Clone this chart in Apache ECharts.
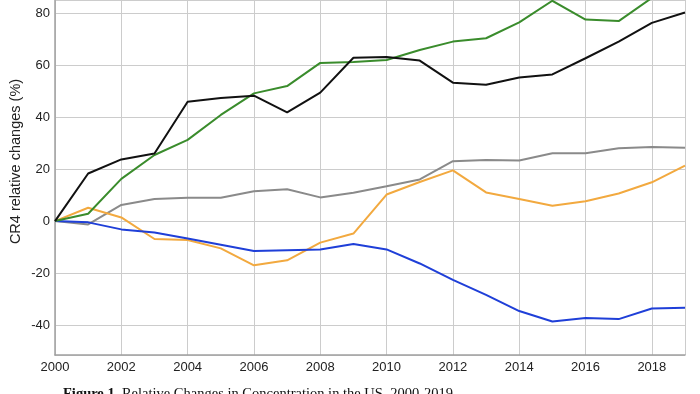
<!DOCTYPE html>
<html>
<head>
<meta charset="utf-8">
<script src="https://cdn.jsdelivr.net/npm/echarts@6/dist/echarts.min.js"></script>
<style>
html,body{margin:0;padding:0;background:#fff;}
#chart{width:700px;height:394px;}
</style>
</head>
<body>
<div id="chart"></div>
<script>
var years = [2000,2001,2002,2003,2004,2005,2006,2007,2008,2009,2010,2011,2012,2013,2014,2015,2016,2017,2018,2019];
var blackSeries  = [0,18.3,23.7,26,45.9,47.3,48.2,41.8,49.4,62.8,63.1,61.7,53.2,52.4,55.2,56.4,62.6,69,76.2,80.2];
var greenSeries  = [0,2.8,16.2,25.4,31.2,40.8,49.1,51.9,60.8,61.2,61.9,65.8,69,70.3,76.4,84.7,77.5,76.9,85.8,88];
var graySeries   = [0,-1.3,6.2,8.5,9,9,11.5,12.2,9.1,10.9,13.4,16,23,23.5,23.3,26.1,26.1,28,28.5,28.2];
var orangeSeries = [0,5.1,1.4,-6.9,-7.3,-10.5,-17,-15.1,-8.3,-4.8,10.2,15,19.5,11,8.5,5.9,7.6,10.6,14.9,21.3];
var blueSeries   = [0,-0.5,-3.2,-4.4,-6.7,-9.1,-11.5,-11.2,-10.9,-8.8,-10.9,-16.3,-22.6,-28.4,-34.6,-38.6,-37.3,-37.7,-33.6,-33.3];
var yMin = -51.5, yMax = 85;
var yTitle = 'CR4 relative changes (%)';
var captionBold = 'Figure 1.';
var captionText = ' Relative Changes in Concentration in the US, 2000-2019';

function pairs(vals){ return years.map(function(y,i){ return [y, vals[i]]; }); }
function line(name, vals, color){
  return { name:name, type:'line', data:pairs(vals), symbol:'none', clip:true,
    lineStyle:{color:color, width:2}, itemStyle:{color:color}, z:2 };
}

var chart = echarts.init(document.getElementById('chart'));
chart.setOption({
  animation:false,
  backgroundColor:'#fff',
  grid:{left:55, right:15, top:0, bottom:39},
  xAxis:{type:'value', min:2000, max:2019, interval:2,
    axisLine:{show:true, onZero:false, lineStyle:{color:'#a0a0a0', width:1.5}},
    axisTick:{show:false},
    axisLabel:{color:'#222', fontSize:13, fontFamily:'Liberation Sans, Arial', margin:6,
      showMaxLabel:false, formatter:function(v){return v===2019?'':String(v);}},
    splitLine:{show:true, lineStyle:{color:'#cccccc', width:1}}},
  yAxis:{type:'value', min:yMin, max:yMax, minInterval:20, maxInterval:20,
    axisLine:{show:true, onZero:false, lineStyle:{color:'#a0a0a0', width:1.5}},
    axisTick:{show:false},
    axisLabel:{color:'#222', fontSize:13, fontFamily:'Liberation Sans, Arial', margin:5,
      showMinLabel:false, showMaxLabel:false},
    splitLine:{show:true, lineStyle:{color:'#cccccc', width:1}}},
  graphic:[
    {type:'text', x:16, y:161.5, rotation:Math.PI/2,
      style:{text:yTitle, textAlign:'center', textVerticalAlign:'middle',
        font:'14.5px "Liberation Sans", Arial', fill:'#222'}},
    {type:'text', left:63, top:387,
      style:{rich:{b:{fontWeight:'bold', fontFamily:'Liberation Serif, Times New Roman', fontSize:14.5, fill:'#111'},
                   n:{fontFamily:'Liberation Serif, Times New Roman', fontSize:14.5, fill:'#111'}},
             text:'{b|'+captionBold+'}{n|'+captionText+'}'}}],
  series:[
    line('Gray', graySeries, '#8a8a8a'),
    line('Orange', orangeSeries, '#f2a93f'),
    line('Blue', blueSeries, '#1f3fd8'),
    line('Green', greenSeries, '#3a8c2c'),
    line('Black', blackSeries, '#111111')
  ]
});
</script>
</body>
</html>
